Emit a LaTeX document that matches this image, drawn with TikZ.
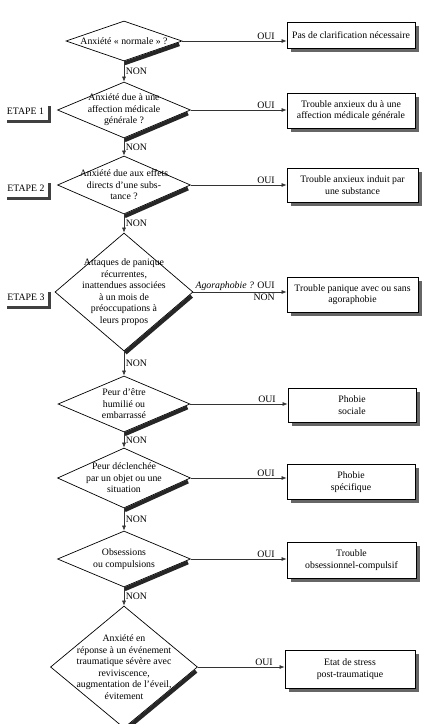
\documentclass[tikz,border=0pt]{standalone}
\usepackage{fontspec}
\setmainfont{Liberation Serif}
\usetikzlibrary{shapes.geometric,arrows.meta,shadows,calc}

\tikzset{
    texte/.style={font=\fontsize{9.8}{11.5}\selectfont, align=center},
    question/.style={diamond, draw=black, line width=0.7pt, fill=white, inner sep=0pt},
    reponse/.style={rectangle, draw=black, line width=0.9pt, fill=white, inner sep=0pt, texte,
        drop shadow={shadow xshift=3.5pt, shadow yshift=-3.5pt, fill=black!60, opacity=1}},
    etape/.style={rectangle, fill=white, inner sep=0pt, texte, minimum width=44pt, minimum height=17pt,
        drop shadow={shadow xshift=3pt, shadow yshift=-3pt, fill=black!75, opacity=1}},
    ombre/.style={line width=4pt, black!85, shorten <=4pt},
    fleche/.style={draw=black!80, line width=0.6pt, -{Latex[length=5pt,width=4pt]}},
    oui/.style={texte, anchor=south east, xshift=-10pt, inner sep=1.5pt},
    non/.style={texte, right, inner sep=1.5pt}
}

\begin{document}
\begin{tikzpicture}[x=1pt, y=-1pt]
    \useasboundingbox (0,0) rectangle (430,724);

    % questions
    \node[question, minimum width=116pt, minimum height=40pt,
        label={[texte]center:{Anxiété « normale » ?}}] (d1) at (124,41) {};
    \node[question, minimum width=133pt, minimum height=56pt,
        label={[texte]center:{Anxiété due à une\\affection médicale\\générale ?}}] (d2) at (124,110) {};
    \node[question, minimum width=133pt, minimum height=58pt,
        label={[texte]center:{Anxiété due aux effets\\directs d'une subs-\\tance ?}}] (d3) at (124,185) {};
    \node[question, minimum width=138pt, minimum height=118pt,
        label={[texte]center:{Attaques de panique\\récurrentes,\\inattendues associées\\à un mois de\\préoccupations à\\leurs propos}}] (d4) at (124,292) {};
    \node[question, minimum width=132pt, minimum height=56pt,
        label={[texte]center:{Peur d'être\\humilié ou\\embarrassé}}] (d5) at (124,404) {};
    \node[question, minimum width=133pt, minimum height=60pt,
        label={[texte]center:{Peur déclenchée\\par un objet ou une\\situation}}] (d6) at (124,478) {};
    \node[question, minimum width=133pt, minimum height=56pt,
        label={[texte]center:{Obsessions\\ou compulsions}}] (d7) at (124,559) {};
    \node[question, minimum width=147pt, minimum height=122pt,
        label={[texte]center:{Anxiété en\\réponse à un événement\\traumatique sévère avec\\reviviscence,\\augmentation de l'éveil,\\évitement}}] (d8) at (124,667) {};

    % ombres des losanges
    \foreach \q in {d1,d2,d3,d4,d5,d6,d7,d8}
        \draw[ombre] ($(\q.east)!2pt!90:(\q.south)$) -- ($(\q.south)!2pt!-90:(\q.east)$);

    % reponses
    \node[reponse, minimum width=128pt, minimum height=26pt] (b1) at (351,35) {Pas de clarification nécessaire};
    \node[reponse, minimum width=128pt, minimum height=35pt] (b2) at (351,110.5) {Trouble anxieux du à une\\affection médicale générale};
    \node[reponse, minimum width=131pt, minimum height=34pt] (b3) at (352.5,185) {Trouble anxieux induit par\\une substance};
    \node[reponse, minimum width=131pt, minimum height=35pt] (b4) at (352.5,294.5) {Trouble panique avec ou sans\\agoraphobie};
    \node[reponse, minimum width=128pt, minimum height=34pt] (b5) at (352,405) {Phobie\\sociale};
    \node[reponse, minimum width=128pt, minimum height=35pt] (b6) at (351,482) {Phobie\\spécifique};
    \node[reponse, minimum width=129pt, minimum height=36pt] (b7) at (351.5,560) {Trouble\\obsessionnel-compulsif};
    \node[reponse, minimum width=130pt, minimum height=38pt] (b8) at (350,669) {Etat de stress\\post-traumatique};

    % etapes
    \node[etape] (e1) at (25.5,111) {ETAPE 1};
    \node[etape] (e2) at (26,188) {ETAPE 2};
    \node[etape] (e3) at (26,297) {ETAPE 3};

    % fleches
    \foreach \a/\b in {d1/d2,d2/d3,d3/d4,d4/d5,d5/d6,d6/d7,d7/d8}
        \draw[fleche] (\a.south) -- node[non] {NON} (\b.north);

    \foreach \q/\r in {d1/b1,d2/b2,d3/b3,d5/b5,d6/b6,d7/b7,d8/b8}
        \draw[fleche] (\q.east) -- (\q.east -| \r.west) node[oui] {OUI};
    \draw[fleche] (d4.east) -- (d4.east -| b4.west)
        node[oui] {\textit{Agoraphobie ?} OUI}
        node[texte, anchor=north east, xshift=-10pt, inner sep=1.5pt] {NON};

\end{tikzpicture}
\end{document}
